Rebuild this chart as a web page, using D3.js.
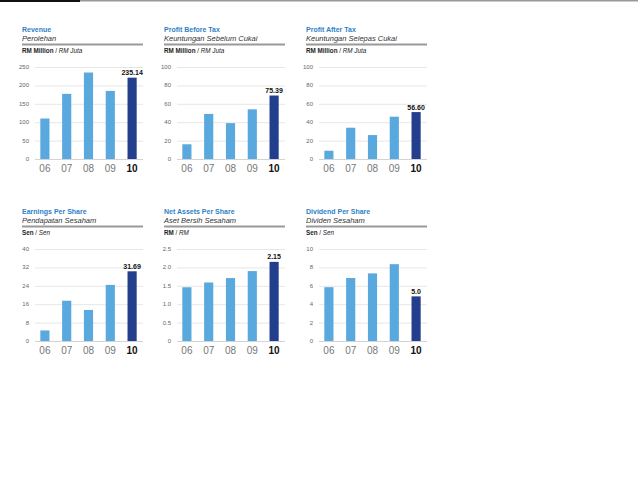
<!DOCTYPE html>
<html>
<head>
<meta charset="utf-8">
<script src="https://cdn.jsdelivr.net/npm/d3@7"></script>
<style>
  body { margin: 0; background: #fff; }
  svg { display: block; font-family: "Liberation Sans", Arial, sans-serif; }
  .title { fill: #2f7fc6; font-size: 7px; font-weight: bold; }
  .sub { fill: #333; font-size: 7.5px; font-style: italic; }
  .unit { fill: #222; font-size: 6.3px; }
  .tick-y { fill: #666; font-size: 6px; }
  .tick-x { fill: #777; font-size: 10px; }
  .tick-x.last { fill: #111; font-weight: bold; }
  .val { fill: #111; font-size: 7px; font-weight: bold; }
</style>
</head>
<body>
<svg id="chart" width="640" height="480"></svg>
<script>
const years = ['06', '07', '08', '09', '10'];

const revenue = [110, 177, 235, 185, 221];
const profitBeforeTax = [16, 49, 39, 54, 69];
const profitAfterTax = [9, 34, 26, 46, 51];
const earningsPerShare = [4.6, 17.5, 13.5, 24.4, 30.3];
const netAssetsPerShare = [1.46, 1.59, 1.71, 1.90, 2.15];
const dividendPerShare = [5.85, 6.85, 7.35, 8.35, 4.85];

const lastLabels = ['235.14', '75.39', '56.60', '31.69', '2.15', '5.0'];

const revenueTicks = [0, 50, 100, 150, 200, 250];
const profitTicks = [0, 20, 40, 60, 80, 100];
const epsTicks = [0, 8, 16, 24, 32, 40];
const napsTicks = [0, 0.5, 1.0, 1.5, 2.0, 2.5];
const dpsTicks = [0, 2, 4, 6, 8, 10];

const titles = ['Revenue', 'Profit Before Tax', 'Profit After Tax',
  'Earnings Per Share', 'Net Assets Per Share', 'Dividend Per Share'];
const subtitles = ['Perolehan', 'Keuntungan Sebelum Cukai', 'Keuntungan Selepas Cukai',
  'Pendapatan Sesaham', 'Aset Bersih Sesaham', 'Dividen Sesaham'];
const unitsEn = ['RM Million', 'RM Million', 'RM Million', 'Sen', 'RM', 'Sen'];
const unitsMy = ['RM Juta', 'RM Juta', 'RM Juta', 'Sen', 'RM', 'Sen'];

const series = [revenue, profitBeforeTax, profitAfterTax,
  earningsPerShare, netAssetsPerShare, dividendPerShare];
const tickSets = [revenueTicks, profitTicks, profitTicks, epsTicks, napsTicks, dpsTicks];

const [panelWidth, colStep, rowStep] = [121, 142, 182];
const [left0, top0] = [22, 0];

const svg = d3.select('#chart');

// page rule at the very top
svg.append('rect').attr('x', 0).attr('y', 0).attr('width', 80).attr('height', 2).attr('fill', '#111');
svg.append('rect').attr('x', 80).attr('y', 0).attr('width', 558).attr('height', 1.5).attr('fill', '#999');

let drawPanel = (i) => {
  const values = series[i];
  const ticks = tickSets[i];
  const g = svg.append('g')
      .attr('transform', `translate(${left0 + (i % 3) * colStep},${top0 + Math.floor(i / 3) * rowStep})`);

  g.append('text').attr('class', 'title').attr('x', 0).attr('y', 32).text(titles[i]);
  g.append('text').attr('class', 'sub').attr('x', 0).attr('y', 41).text(subtitles[i]);
  g.append('rect').attr('x', 0).attr('y', 43.5).attr('width', panelWidth).attr('height', 2).attr('fill', '#999');

  const unit = g.append('text').attr('class', 'unit').attr('x', 0).attr('y', 52.5);
  unit.append('tspan').attr('font-weight', 'bold').text(unitsEn[i]);
  unit.append('tspan').text(' / ');
  unit.append('tspan').attr('font-style', 'italic').text(unitsMy[i]);

  const y = d3.scaleLinear()
    .domain([0, d3.max(ticks)])
    .range([159, 67]);

  const x = d3.scaleBand()
    .domain(years)
    .range([12, panelWidth])
    .paddingInner(0.58)
    .paddingOuter(0.29);

  g.append('g')
    .attr('class', 'grid')
  .selectAll('line')
    .data(ticks)
    .join('line')
      .attr('x1', 13)
      .attr('x2', panelWidth)
      .attr('y1', d => y(d) + 0.5)
      .attr('y2', d => y(d) + 0.5)
      .attr('stroke', d => d === 0 ? '#c8c8c8' : '#e0e0e0')
      .attr('stroke-width', 0.8);

  const fmt = ticks[1] < 1 ? (d => d === 0 ? '0' : d3.format('.1f')(d)) : d3.format('d');
  g.append('g')
  .selectAll('text')
    .data(ticks)
    .join('text')
      .attr('class', 'tick-y')
      .attr('x', 7)
      .attr('y', d => y(d) + 2)
      .attr('text-anchor', 'end')
      .text(fmt);

  g.append('g')
  .selectAll('rect')
    .data(values)
    .join('rect')
      .attr('x', (d, j) => x(years[j]))
      .attr('y', d => y(d))
      .attr('width', x.bandwidth())
      .attr('height', d => y(0) - y(d))
      .attr('fill', (d, j) => j === years.length - 1 ? '#233e8c' : '#5aa9de');

  g.append('g')
  .selectAll('text')
    .data(years)
    .join('text')
      .attr('class', (d, j) => j === years.length - 1 ? 'tick-x last' : 'tick-x')
      .attr('x', d => x(d) + x.bandwidth() / 2)
      .attr('y', 172)
      .attr('text-anchor', 'middle')
      .text(d => d);

  const last = values[values.length - 1];
  g.append('text')
    .attr('class', 'val')
    .attr('x', x(years[years.length - 1]) + x.bandwidth() / 2)
    .attr('y', y(last) - 2.5)
    .attr('text-anchor', 'middle')
    .text(lastLabels[i]);
};

series.forEach((s, i) => drawPanel(i));
</script>
</body>
</html>
